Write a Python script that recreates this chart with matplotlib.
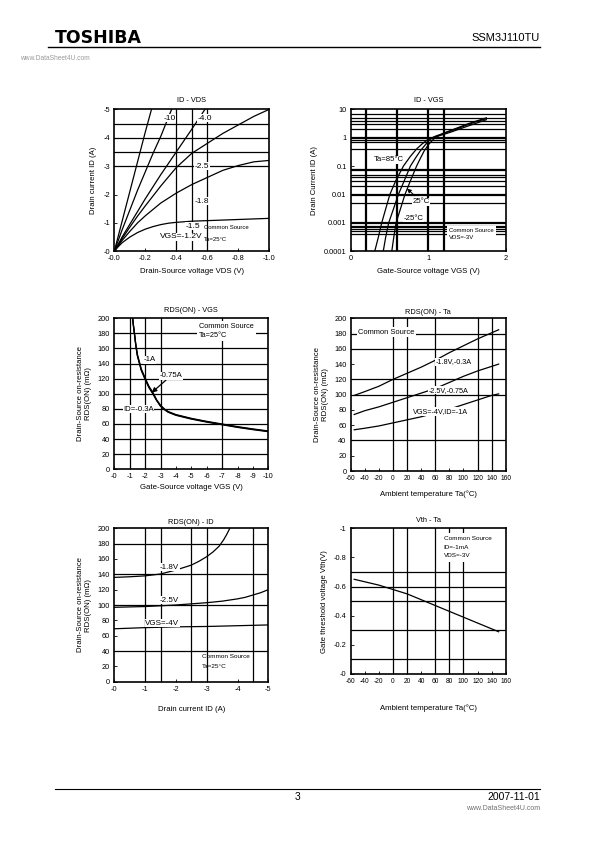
import matplotlib
matplotlib.use('Agg')
import matplotlib.pyplot as plt
from matplotlib.ticker import FixedLocator, NullLocator

plt.rcParams['font.family'] = ['Liberation Sans', 'DejaVu Sans']
plt.rcParams['axes.unicode_minus'] = False

# ---------------- DATA ----------------
# Chart 1: ID - VDS (VGS curves)
vds_m10 = [0, -0.05, -0.10, -0.15, -0.20, -0.24]
id_m10 = [0, -1.05, -2.1, -3.15, -4.2, -5.0]
vds_m40 = [0, -0.05, -0.1, -0.15, -0.2, -0.25, -0.3, -0.37]
id_m40 = [0, -0.75, -1.45, -2.15, -2.8, -3.45, -4.05, -5.0]
vds_m25 = [0, -0.05, -0.1, -0.2, -0.3, -0.4, -0.5, -0.585]
id_m25 = [0, -0.5, -0.95, -1.85, -2.7, -3.5, -4.3, -5.0]
vds_m18 = [0, -0.05, -0.1, -0.15, -0.2, -0.3, -0.4, -0.5, -0.6, -0.7, -0.8, -0.9, -1.0]
id_m18 = [0, -0.44, -0.85, -1.24, -1.6, -2.3, -2.95, -3.45, -3.8, -4.15, -4.45, -4.75, -5.0]
vds_m15 = [0, -0.05, -0.1, -0.15, -0.2, -0.3, -0.4, -0.5, -0.6, -0.7, -0.8, -0.9, -1.0]
id_m15 = [0, -0.38, -0.7, -1.0, -1.25, -1.7, -2.05, -2.35, -2.6, -2.85, -3.02, -3.15, -3.2]
vds_m12 = [0, -0.02, -0.05, -0.08, -0.1, -0.15, -0.2, -0.25, -0.3, -0.35, -0.4, -0.5, -0.6, -0.8, -1.0]
id_m12 = [0, -0.13, -0.3, -0.42, -0.5, -0.66, -0.78, -0.87, -0.94, -0.99, -1.02, -1.06, -1.08, -1.12, -1.16]
vds_ticks = [0, -0.2, -0.4, -0.6, -0.8, -1.0]
vds_ticklabels = ['-0.0', '-0.2', '-0.4', '-0.6', '-0.8', '-1.0']
id1_ticks = [0, -1, -2, -3, -4, -5]
id1_ticklabels = ['-0', '-1', '-2', '-3', '-4', '-5']

# Chart 2: ID - VGS (log)
vgs_85 = [0.31, 0.355, 0.40, 0.45, 0.505, 0.58, 0.68, 0.77, 0.85, 0.92, 0.98, 1.04,
          1.1, 1.2, 1.3, 1.4, 1.5, 1.6, 1.75]
id_85 = [1e-4, 3e-4, 1e-3, 3e-3, 1e-2, 3e-2, 0.1, 0.22, 0.4, 0.6, 0.8, 0.98,
         1.1, 1.3, 1.6, 2.0, 2.5, 3.1, 4.3]
vgs_25 = [0.42, 0.45, 0.49, 0.55, 0.615, 0.69, 0.77, 0.84, 0.9, 0.96, 1.02, 1.07,
          1.1, 1.2, 1.3, 1.4, 1.5, 1.6, 1.75]
id_25 = [1e-4, 3e-4, 1e-3, 3e-3, 1e-2, 3e-2, 0.1, 0.2, 0.35, 0.55, 0.85, 1.05,
         1.15, 1.42, 1.75, 2.2, 2.8, 3.5, 4.7]
vgs_m25 = [0.53, 0.555, 0.585, 0.64, 0.70, 0.77, 0.85, 0.9, 0.95, 1.01, 1.07, 1.12,
           1.15, 1.2, 1.3, 1.4, 1.5, 1.6, 1.75]
id_m25c = [1e-4, 3e-4, 1e-3, 3e-3, 1e-2, 3e-2, 0.1, 0.19, 0.35, 0.6, 0.9, 1.1,
           1.25, 1.45, 1.85, 2.35, 3.0, 3.7, 5.0]
vgs2_ticks = [0, 1, 2]
id2_ticks = [1e-4, 1e-3, 1e-2, 0.1, 1, 10]
id2_ticklabels = ['0.0001', '0.001', '0.01', '0.1', '1', '10']

# Chart 3: RDS(ON) - VGS
vgs3 = [-1.19, -1.25, -1.3, -1.4, -1.5, -1.75, -2.0, -2.25, -2.5, -2.75, -3.0, -3.25,
        -3.5, -4.0, -4.5, -5.0, -6.0, -7.0, -8.0, -9.0, -10.0]
rds_1a = [200, 190, 182, 165, 152, 133, 121, 110, 102, 92, 85, 80,
          76.5, 72.5, 70, 67.5, 63.5, 60, 56.5, 53.5, 50.8]
rds_075a = [200, 189, 181, 164, 151, 132, 120, 109, 101, 91.5, 84, 79.5,
            76, 72, 69.5, 67, 63, 59.5, 56, 53, 50.3]
rds_03a = [200, 188, 180, 163, 150, 131, 119, 108, 100, 91, 83.5, 79,
           75.5, 71.5, 69, 66.5, 62.5, 59, 55.5, 52.5, 49.8]
vgs3_ticks = [0, -1, -2, -3, -4, -5, -6, -7, -8, -9, -10]
vgs3_ticklabels = ['-0', '-1', '-2', '-3', '-4', '-5', '-6', '-7', '-8', '-9', '-10']

# Chart 4: RDS(ON) - Ta
ta4 = [-55, -40, -20, 0, 20, 40, 60, 80, 100, 120, 140, 150]
rds_18v = [99, 104, 111, 120, 128, 136, 145, 155, 164, 173, 181, 185]
rds_25v = [74, 79, 84, 90, 96, 102, 108, 116, 124, 131, 137, 140]
rds_4v = [54, 56, 59, 63, 67, 71, 76, 81, 87, 93, 99, 101]
ta_ticks = [-60, -40, -20, 0, 20, 40, 60, 80, 100, 120, 140, 160]

# Chart 5: RDS(ON) - ID
id5_18 = [0, -0.5, -1.0, -1.5, -2.0, -2.5, -2.75, -3.0, -3.2, -3.4, -3.55, -3.65, -3.75]
rds5_18 = [136, 136.8, 138, 140.4, 145.6, 152, 157, 163, 169, 176.5, 185, 192, 200]
id5_25 = [0, -1, -2, -3, -3.5, -4, -4.25, -4.5, -4.75, -5]
rds5_25 = [97, 98, 100, 103, 105, 108, 110, 113, 116, 120]
id5_4 = [0, -1, -2, -3, -4, -5]
rds5_4 = [69, 70.5, 71.5, 72, 73, 74]
id5_ticks = [0, -1, -2, -3, -4, -5]
id5_ticklabels = ['-0', '-1', '-2', '-3', '-4', '-5']
rds_ticks = [0, 20, 40, 60, 80, 100, 120, 140, 160, 180, 200]

# Chart 6: Vth - Ta
ta6 = [-55, -20, 0, 20, 40, 60, 80, 100, 120, 150]
vth6 = [-0.65, -0.61, -0.58, -0.55, -0.51, -0.47, -0.43, -0.39, -0.35, -0.29]
vth_ticks = [0, -0.2, -0.4, -0.6, -0.8, -1.0]
vth_ticklabels = ['-0', '-0.2', '-0.4', '-0.6', '-0.8', '-1']

# grid lines as drawn on the scanned charts
grid1_x = [-0.4, -0.5, -0.6]
grid1_y = [-3, -3.5, -4, -4.5]
grid2_x = [0.2, 0.6, 1.0, 1.2]
grid2_y_major = [1, 0.01, 0.001]
grid2_y_minor = [7, 5, 4, 3, 2, 0.8, 0.7, 0.4, 0.08, 0.07, 0.05, 0.04, 0.03, 0.02,
                 0.005, 0.0008, 0.0007, 0.0006, 0.0005, 0.0004]
grid3_x = [-1, -2, -3, -7]
grid3_y = [20, 40, 60, 80, 100, 120, 140, 160, 180]
grid4_x = [0, 20, 60, 120, 140]
grid4_y = [40, 100, 120, 160, 180]
grid5_x = [-1, -1.5, -2.5, -3, -4.5]
grid5_y = [40, 100, 140, 180]
grid6_x = [0, 20, 60, 80, 100]
grid6_y = [-0.1, -0.3, -0.5, -0.6, -0.7]

# ---------------- FIGURE ----------------
fig = plt.figure(figsize=(5.95, 8.42), dpi=100)
W, H = 595.0, 842.0


def make_ax(x0, y0, x1, y1):
    return fig.add_axes([x0 / W, 1 - y1 / H, (x1 - x0) / W, (y1 - y0) / H])


TS = 5.3   # tick label size
LS = 5.6   # axis label size
GL = 0.9   # grid line width
BB = dict(facecolor='white', edgecolor='none', pad=0.4)


def style(ax):
    for s in ax.spines.values():
        s.set_linewidth(1.2)
    ax.tick_params(direction='in', length=2, width=0.6, labelsize=TS, pad=3)
    ax.tick_params(which='minor', length=0)


def grid(ax, xs, ys, lw=GL):
    for v in xs:
        ax.axvline(v, color='black', lw=lw, zorder=1)
    for v in ys:
        ax.axhline(v, color='black', lw=lw, zorder=1)


# ---- Chart 1 ----
ax1 = make_ax(114.3, 109.3, 269.3, 251.3)
style(ax1)
grid(ax1, grid1_x, grid1_y)
for xs, ys in [(vds_m10, id_m10), (vds_m40, id_m40), (vds_m25, id_m25),
               (vds_m18, id_m18), (vds_m15, id_m15), (vds_m12, id_m12)]:
    ax1.plot(xs, ys, color='black', lw=0.9, zorder=3)
ax1.set_xlim(0, -1.0)
ax1.set_ylim(0, -5)
ax1.xaxis.set_major_locator(FixedLocator(vds_ticks))
ax1.set_xticklabels(vds_ticklabels)
ax1.yaxis.set_major_locator(FixedLocator(id1_ticks))
ax1.set_yticklabels(id1_ticklabels)
ax1.set_title('ID - VDS', fontsize=TS, pad=5)
ax1.set_xlabel('Drain-Source voltage VDS (V)', fontsize=LS, labelpad=4)
ax1.set_ylabel('Drain current ID (A)', fontsize=LS, labelpad=5)
for t, x, y in [('-10', -0.316, -4.68), ('-4.0', -0.54, -4.68), ('-2.5', -0.52, -3.0),
                ('-1.8', -0.516, -1.77), ('-1.5', -0.46, -0.89), ('VGS=-1.2V', -0.295, -0.51)]:
    ax1.text(x, y, t, fontsize=6, va='center', ha='left', zorder=4, bbox=BB)
ax1.text(-0.58, -0.84, 'Common Source', fontsize=4.3, va='center', ha='left', zorder=4)
ax1.text(-0.58, -0.43, 'Ta=25°C', fontsize=4.3, va='center', ha='left', zorder=4)

# ---- Chart 2 ----
ax2 = make_ax(350.7, 109.3, 505.7, 251.3)
style(ax2)
ax2.set_yscale('log')
grid(ax2, grid2_x, grid2_y_major, lw=1.6)
grid(ax2, [], grid2_y_minor, lw=GL)
for xs, ys in [(vgs_85, id_85), (vgs_25, id_25), (vgs_m25, id_m25c)]:
    ax2.plot(xs, ys, color='black', lw=0.9, zorder=3)
ax2.set_xlim(0, 2)
ax2.set_ylim(1e-4, 10)
ax2.xaxis.set_major_locator(FixedLocator(vgs2_ticks))
ax2.yaxis.set_major_locator(FixedLocator(id2_ticks))
ax2.yaxis.set_minor_locator(NullLocator())
ax2.set_yticklabels(id2_ticklabels)
ax2.set_title('ID - VGS', fontsize=TS, pad=5)
ax2.set_xlabel('Gate-Source voltage VGS (V)', fontsize=LS, labelpad=4)
ax2.set_ylabel('Drain Current ID (A)', fontsize=LS, labelpad=4)
ax2.text(0.30, 0.164, 'Ta=85°C', fontsize=5.6, va='center', ha='left', zorder=4, bbox=BB)
ax2.annotate('25°C', xy=(0.70, 0.0188), xytext=(0.80, 0.0056), fontsize=5.6,
             va='center', ha='left', zorder=4, bbox=BB,
             arrowprops=dict(arrowstyle='-|>', color='black', lw=0.7, mutation_scale=6))
ax2.text(0.68, 0.00145, '-25°C', fontsize=5.6, va='center', ha='left', zorder=4, bbox=BB)
ax2.text(0.635, 0.12, 'Common Source\nVDS=-3V', transform=ax2.transAxes, fontsize=4.3,
         va='center', ha='left', zorder=4, linespacing=1.6,
         bbox=dict(facecolor='white', edgecolor='none', pad=1.2))

# ---- Chart 3 ----
ax3 = make_ax(114.3, 318.3, 268.3, 469.3)
style(ax3)
grid(ax3, grid3_x, grid3_y)
for ys in (rds_1a, rds_075a, rds_03a):
    ax3.plot(vgs3, ys, color='black', lw=0.9, zorder=3)
ax3.set_xlim(0, -10)
ax3.set_ylim(0, 200)
ax3.xaxis.set_major_locator(FixedLocator(vgs3_ticks))
ax3.set_xticklabels(vgs3_ticklabels)
ax3.yaxis.set_major_locator(FixedLocator(rds_ticks))
ax3.set_title('RDS(ON) - VGS', fontsize=TS, pad=4.5)
ax3.set_xlabel('Gate-Source voltage VGS (V)', fontsize=LS, labelpad=2.5)
ax3.set_ylabel('Drain-Source on-resistance\nRDS(ON) (mΩ)', fontsize=LS, labelpad=4)
ax3.text(-1.88, 144.8, '-1A', fontsize=5.6, va='center', ha='left', zorder=4, bbox=BB)
ax3.annotate('-0.75A', xy=(-2.43, 101.5), xytext=(-2.92, 123.6), fontsize=5.6,
             va='center', ha='left', zorder=4, bbox=BB,
             arrowprops=dict(arrowstyle='-|>', color='black', lw=0.9, mutation_scale=7,
                             shrinkA=0, shrinkB=0))
ax3.text(-0.58, 79.5, 'ID=-0.3A', fontsize=5.6, va='center', ha='left', zorder=4, bbox=BB)
ax3.text(-5.5, 183, 'Common Source\nTa=25°C', fontsize=5.3, va='center', ha='left',
         zorder=4, linespacing=1.3, bbox=dict(facecolor='white', edgecolor='none', pad=1.5))

# ---- Chart 4 ----
ax4 = make_ax(350.7, 318.3, 505.7, 471.0)
style(ax4)
grid(ax4, grid4_x, grid4_y)
for ys in (rds_18v, rds_25v, rds_4v):
    ax4.plot(ta4, ys, color='black', lw=0.9, zorder=3)
ax4.set_xlim(-60, 160)
ax4.set_ylim(0, 200)
ax4.xaxis.set_major_locator(FixedLocator(ta_ticks))
ax4.yaxis.set_major_locator(FixedLocator(rds_ticks))
ax4.tick_params(axis='x', labelsize=4.8)
ax4.set_title('RDS(ON) - Ta', fontsize=TS, pad=3)
ax4.set_xlabel('Ambient temperature Ta(°C)', fontsize=LS, labelpad=6)
ax4.set_ylabel('Drain-Source on-resistance\nRDS(ON) (mΩ)', fontsize=LS, labelpad=4)
ax4.text(-49, 182, 'Common Source', fontsize=5.4, va='center', ha='left', zorder=4,
         bbox=dict(facecolor='white', edgecolor='none', pad=1.2))
ax4.text(60, 143, '-1.8V,-0.3A', fontsize=5.2, va='center', ha='left', zorder=4, bbox=BB)
ax4.text(50, 106, '-2.5V,-0.75A', fontsize=5.2, va='center', ha='left', zorder=4, bbox=BB)
ax4.text(29, 78, 'VGS=-4V,ID=-1A', fontsize=5.2, va='center', ha='left', zorder=4, bbox=BB)

# ---- Chart 5 ----
ax5 = make_ax(114.3, 528.3, 268.3, 681.7)
style(ax5)
grid(ax5, grid5_x, grid5_y)
for xs, ys in [(id5_18, rds5_18), (id5_25, rds5_25), (id5_4, rds5_4)]:
    ax5.plot(xs, ys, color='black', lw=0.9, zorder=3)
ax5.set_xlim(0, -5)
ax5.set_ylim(0, 200)
ax5.xaxis.set_major_locator(FixedLocator(id5_ticks))
ax5.set_xticklabels(id5_ticklabels)
ax5.yaxis.set_major_locator(FixedLocator(rds_ticks))
ax5.set_title('RDS(ON) - ID', fontsize=TS, pad=3)
ax5.set_xlabel('Drain current ID (A)', fontsize=LS, labelpad=9.5)
ax5.set_ylabel('Drain-Source on-resistance\nRDS(ON) (mΩ)', fontsize=LS, labelpad=4)
ax5.text(-1.48, 149, '-1.8V', fontsize=5.8, va='center', ha='left', zorder=4, bbox=BB)
ax5.text(-1.46, 106.5, '-2.5V', fontsize=5.8, va='center', ha='left', zorder=4, bbox=BB)
ax5.text(-1.0, 76, 'VGS=-4V', fontsize=5.8, va='center', ha='left', zorder=4, bbox=BB)
ax5.text(-2.84, 33.5, 'Common Source', fontsize=4.6, va='center', ha='left', zorder=4)
ax5.text(-2.84, 19.6, 'Ta=25°C', fontsize=4.6, va='center', ha='left', zorder=4)

# ---- Chart 6 ----
ax6 = make_ax(350.7, 528.3, 505.7, 674.0)
style(ax6)
grid(ax6, grid6_x, grid6_y)
ax6.plot(ta6, vth6, color='black', lw=0.9, zorder=3)
ax6.set_xlim(-60, 160)
ax6.set_ylim(0, -1.0)
ax6.xaxis.set_major_locator(FixedLocator(ta_ticks))
ax6.tick_params(axis='x', labelsize=4.8)
ax6.yaxis.set_major_locator(FixedLocator(vth_ticks))
ax6.set_yticklabels(vth_ticklabels)
ax6.set_title('Vth - Ta', fontsize=TS, pad=4.5)
ax6.set_xlabel('Ambient temperature Ta(°C)', fontsize=LS, labelpad=14)
ax6.set_ylabel('Gate threshold voltage Vth(V)', fontsize=LS, labelpad=4)
ax6.text(0.60, 0.87, 'Common Source\nID=-1mA\nVDS=-3V', transform=ax6.transAxes,
         fontsize=4.6, va='center', ha='left', zorder=4, linespacing=1.9,
         bbox=dict(facecolor='white', edgecolor='none', pad=2.5))

# ---- Header / footer ----
fig.text(55 / W, 1 - 38 / H, 'TOSHIBA', family='DejaVu Sans', fontweight='heavy',
         fontsize=12.5, va='center', ha='left')
fig.text(540 / W, 1 - 38 / H, 'SSM3J110TU', fontsize=8, va='center', ha='right')
fig.add_artist(plt.Line2D([48 / W, 540 / W], [1 - 47 / H, 1 - 47 / H], color='black', lw=1.0))
fig.text(20 / W, 1 - 58 / H, 'www.DataSheet4U.com', fontsize=4.8, color='#9a9a9a',
         va='center', ha='left')
fig.add_artist(plt.Line2D([55 / W, 540 / W], [1 - 789 / H, 1 - 789 / H], color='black', lw=0.8))
fig.text(298 / W, 1 - 797 / H, '3', fontsize=7.5, va='center', ha='center')
fig.text(540 / W, 1 - 797 / H, '2007-11-01', fontsize=7.5, va='center', ha='right')
fig.text(540 / W, 1 - 808 / H, 'www.DataSheet4U.com', fontsize=5, color='#707070',
         va='center', ha='right')

fig.savefig('out.png', dpi=100)
